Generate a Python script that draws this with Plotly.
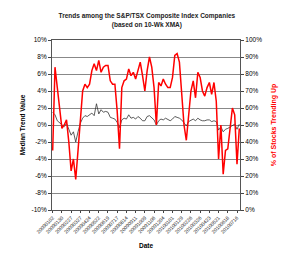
import plotly.graph_objects as go
import datetime as dt

start = dt.date(2009, 1, 2)
dates = [(start + dt.timedelta(weeks=i)).strftime("%Y%m%d") for i in range(82)]

pct_up = [35, 84, 72, 58, 48, 50, 53, 40, 23, 30, 18, 35, 52, 70, 74, 72, 74, 82, 86, 82,
          88, 81, 84, 85, 85, 76, 74, 74, 58, 36, 72, 76, 77, 83, 79, 81, 77, 82, 87, 79,
          70, 82, 90, 84, 72, 50, 75, 73, 77, 74, 72, 72, 78, 91, 92, 87, 65, 50, 41, 54,
          70, 76, 66, 81, 78, 70, 67, 72, 75, 68, 75, 64, 30, 50, 21, 35, 36, 48, 60, 56,
          27, 48]

median_trend = [1.5, 1.2, 0.5, 0.3, 0.0, -0.2, 0.2, -0.5, -1.2, -0.8, -2.0, -0.8, 0.2, 0.8, 1.1,
                1.0, 1.2, 1.4, 1.1, 2.5, 1.3, 1.8, 1.5, 1.6, 1.5, 0.9, 0.8, 0.7, 0.3, -0.3,
                0.6, 0.8, 0.7, 1.2, 0.8, 0.9, 0.7, 1.0, 0.8, 0.5, 0.5, 1.0, 1.1, 0.8, 0.6,
                0.0, 0.5, 0.7, 0.6, 0.8, 0.6, 0.5, 0.7, 1.0, 0.9, 0.8, 0.6, 0.2, -0.1, 0.4,
                0.6, 0.7, 0.5, 0.8, 0.6, 0.5, 0.5, 0.6, 0.6, 0.4, 0.5, 0.4, -0.6, -0.2, -0.8,
                -0.5, -0.4, -0.2, 0.0, 0.1, -0.5, 0.1]

tick_dates = dates[::4]
left_ticks = list(range(-10, 11, 2))
left_text = [f"{v}%" for v in left_ticks]
right_ticks = list(range(0, 101, 10))
right_text = [f"{v}%" for v in right_ticks]

FONT = "Liberation Sans, Arial, sans-serif"

fig = go.Figure()
fig.add_trace(go.Scatter(x=dates, y=[v / 100 for v in median_trend], mode="lines",
                         line=dict(color="#333333", width=0.8), yaxis="y", showlegend=False))
fig.add_trace(go.Scatter(x=dates, y=[v / 100 for v in pct_up], mode="lines",
                         line=dict(color="#ff0000", width=1.5), yaxis="y2", showlegend=False))

fig.update_layout(
    width=288, height=260,
    margin=dict(l=52, r=46, t=40, b=47),
    paper_bgcolor="white", plot_bgcolor="white",
    font=dict(family=FONT, size=7, color="black"),
    title=dict(text="<b>Trends among the S&P/TSX Composite Index Companies<br>(based on 10-Wk XMA)</b>",
               x=0.51, xanchor="center", y=0.93, yanchor="top",
               font=dict(family=FONT, size=6.5, color="#222222")),
    xaxis=dict(type="category", range=[-0.3, 81.3], tickmode="array", tickvals=tick_dates,
               ticktext=tick_dates, tickangle=-45, tickfont=dict(size=5, color="#222222"),
               ticks="outside", ticklen=2, showgrid=False, showline=True, linecolor="#555",
               mirror=True, title=dict(text="<b>Date</b>", font=dict(size=6.5), standoff=9)),
    yaxis=dict(range=[-0.1, 0.1], tickmode="array", tickvals=[v / 100 for v in left_ticks],
               ticktext=left_text, tickfont=dict(size=6.5), ticks="outside", ticklen=3,
               showgrid=True, gridcolor="#888888", gridwidth=0.8, zeroline=False,
               showline=True, linecolor="#555",
               title=dict(text="<b>Median Trend Value</b>", font=dict(size=6.5), standoff=5)),
    yaxis2=dict(range=[0, 1], overlaying="y", side="right", tickmode="array",
                tickvals=[v / 100 for v in right_ticks], ticktext=right_text,
                tickfont=dict(size=6.5), ticks="outside", ticklen=3, showgrid=False,
                zeroline=False, showline=True, linecolor="#555",
                title=dict(text="<b>% of Stocks Trending Up</b>", font=dict(size=7, color="#ff0000"),
                           standoff=9)),
)

fig.write_html("out.html")
